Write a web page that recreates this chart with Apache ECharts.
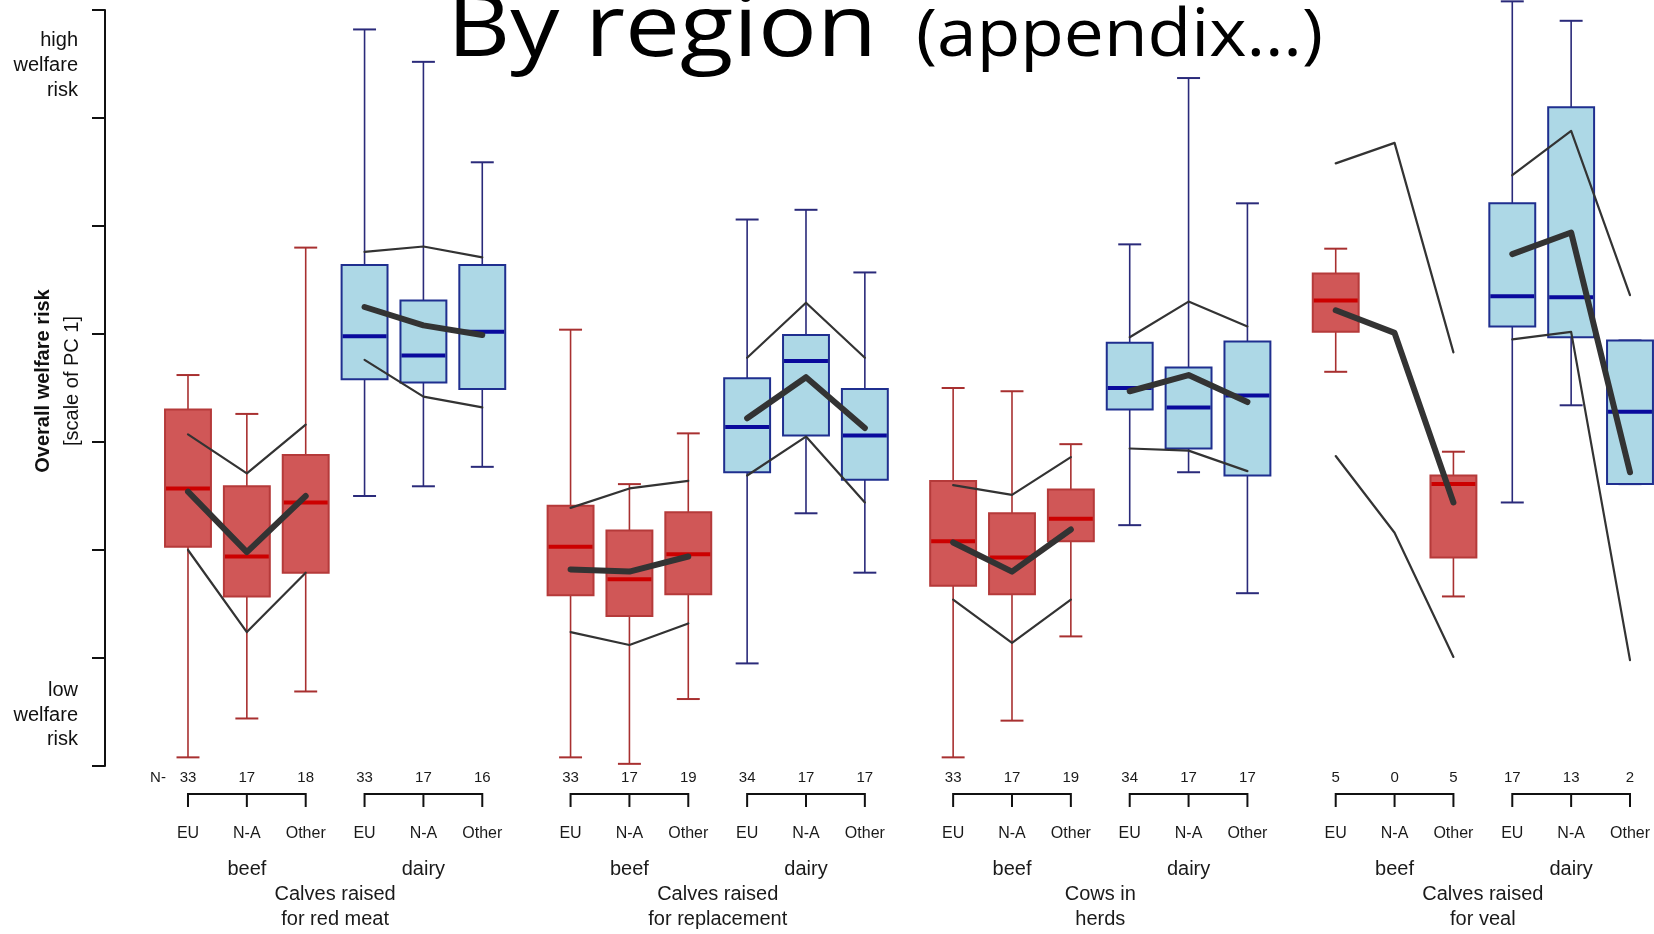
<!DOCTYPE html>
<html><head><meta charset="utf-8">
<script src="https://cdn.jsdelivr.net/npm/echarts@6/dist/echarts.min.js"></script>
<style>html,body{margin:0;padding:0;background:#fff}#c{width:1654px;height:934px}</style>
</head><body><div id="c"></div>
<script>
// ---------- data ----------
const productions = ['Calves raised\nfor red meat', 'Calves raised\nfor replacement', 'Cows in\nherds', 'Calves raised\nfor veal'];
const animalTypes = ['beef', 'dairy'];
const regions = ['EU', 'N-A', 'Other'];
const nCounts = [33,17,18, 33,17,16, 33,17,19, 34,17,17, 33,17,19, 34,17,17, 5,0,5, 17,13,2];
const whiskerLow  = [0.08,0.44,0.69, 2.50,2.59,2.77, 0.08,0.02,0.62, 0.95,2.34,1.79, 0.08,0.42,1.20, 2.23,2.72,1.60, 3.65,null,1.57, 2.44,3.34,2.61];
const quart1      = [2.03,1.57,1.79, 3.58,3.55,3.49, 1.58,1.39,1.59, 2.72,3.06,2.65, 1.67,1.59,2.08, 3.30,2.94,2.69, 4.02,null,1.93, 4.07,3.97,2.61];
const medians     = [2.57,1.94,2.44, 3.98,3.80,4.02, 2.03,1.73,1.96, 3.14,3.75,3.06, 2.08,1.93,2.29, 3.50,3.32,3.43, 4.31,null,2.61, 4.35,4.34,3.28];
const quart3      = [3.30,2.59,2.88, 4.64,4.31,4.64, 2.41,2.18,2.35, 3.59,3.99,3.49, 2.64,2.34,2.56, 3.92,3.69,3.93, 4.56,null,2.69, 5.21,6.10,3.94];
const whiskerHigh = [3.62,3.26,4.80, 6.82,6.52,5.59, 4.04,2.61,3.08, 5.06,5.15,4.57, 3.50,3.47,2.98, 4.83,6.37,5.21, 4.79,null,2.91, 7.08,6.90,3.94];
const meanLine    = [2.54,1.98,2.50, 4.25,4.08,3.99, 1.82,1.80,1.94, 3.22,3.60,3.13, 2.07,1.80,2.19, 3.47,3.62,3.37, 4.22,4.01,2.44, 4.74,4.94,2.72];
const upperLine   = [3.07,2.71,3.16, 4.76,4.81,4.71, 2.39,2.57,2.64, 3.78,4.29,3.78, 2.60,2.51,2.86, 3.97,4.30,4.07, 5.58,5.77,3.83, 5.47,5.88,4.36];
const lowerLine   = [2.00,1.24,1.79, 3.76,3.42,3.32, 1.24,1.12,1.32, 2.69,3.05,2.44, 1.54,1.14,1.54, 2.94,2.92,2.73, 2.87,2.16,1.01, 3.95,4.02,0.98];
const yTicks = [0,1,2,3,4,5,6,7];

// ---------- layout helpers ----------
function pos(i){ return i + 0.5*Math.floor(i/6); }
const FONT = '"Liberation Sans", Arial, sans-serif';
const pal = [
  {fill:'#d05757', border:'#b53a3a', median:'#cc0000', whisker:'#a83030'},
  {fill:'#add8e6', border:'#1f2f8f', median:'#0a0a9c', whisker:'#2a2a7a'}
];

const boxData = [];
for (let i=0;i<24;i++){
  if (medians[i] == null) continue;
  boxData.push([pos(i), whiskerLow[i], quart1[i], medians[i], quart3[i], whiskerHigh[i], Math.floor(i/3)%2]);
}
const annData = [];
for (let i=0;i<24;i++) annData.push([pos(i), i]);

const series = [];
series.push({
  type:'custom', z:2, clip:false, data: boxData,
  renderItem(params, api){
    const x = api.value(0);
    const lo = api.coord([x, api.value(1)]), q1 = api.coord([x, api.value(2)]),
          md = api.coord([x, api.value(3)]), q3 = api.coord([x, api.value(4)]),
          hi = api.coord([x, api.value(5)]);
    const bw = api.size([0.78,0])[0], cw = api.size([0.39,0])[0];
    const p = pal[api.value(6)];
    const cx = lo[0];
    const ln = (x1,y1,x2,y2,c,w)=>({type:'line', shape:{x1,y1,x2,y2}, style:{stroke:c, lineWidth:w}});
    return {type:'group', children:[
      ln(cx,q3[1],cx,hi[1],p.whisker,1.6),
      ln(cx,q1[1],cx,lo[1],p.whisker,1.6),
      ln(cx-cw/2,hi[1],cx+cw/2,hi[1],p.whisker,2),
      ln(cx-cw/2,lo[1],cx+cw/2,lo[1],p.whisker,2),
      {type:'rect', shape:{x:cx-bw/2, y:q3[1], width:bw, height:q1[1]-q3[1]}, style:{fill:p.fill, stroke:p.border, lineWidth:2}},
      ln(cx-bw/2+1,md[1],cx+bw/2-1,md[1],p.median,4)
    ]};
  }
});

const lineKinds = [[meanLine,6],[upperLine,2.2],[lowerLine,2.2]];
for (let g=0; g<8; g++){
  for (const [arr,w] of lineKinds){
    const d = [];
    for (let k=0;k<3;k++){ const i=3*g+k; d.push([pos(i), arr[i]]); }
    series.push({type:'line', z:4, data:d, symbol:'none', silent:true, clip:false,
      lineStyle:{color:'#333', width:w, cap:'round', join:'round'}});
  }
}

series.push({
  type:'custom', z:5, clip:false, data: annData, silent:true,
  renderItem(params, api){
    const x = api.value(0), i = api.value(1);
    const base = api.coord([x, yTicks[0]]);
    const cx = base[0], by = base[1];
    const txt = (t,xx,yy,size,extra)=>({type:'text', style:Object.assign({text:t, x:xx, y:yy, align:'center', verticalAlign:'middle', font:size+'px '+FONT, fill:'#1a1a1a'}, extra||{})});
    const ch = [];
    ch.push(txt(String(nCounts[i]), cx, by+12, 15));
    ch.push(txt(regions[i%3], cx, by+68, 16));
    if (i===0) ch.push(txt('N-', cx-30, by+12, 15));
    if (i%3===1){
      const l = api.coord([pos(i-1), yTicks[0]])[0], r = api.coord([pos(i+1), yTicks[0]])[0];
      ch.push({type:'polyline', shape:{points:[[l,by+41],[l,by+28],[r,by+28],[r,by+41]]}, style:{stroke:'#111', lineWidth:2, fill:null}});
      ch.push({type:'line', shape:{x1:cx,y1:by+28,x2:cx,y2:by+41}, style:{stroke:'#111', lineWidth:2}});
      ch.push(txt(animalTypes[Math.floor(i/3)%2], cx, by+103, 20));
    }
    if (i%6===1){
      const mx = api.coord([pos(i)+1.5, yTicks[0]])[0];
      ch.push(txt(productions[Math.floor(i/6)], mx, by+141, 20, {lineHeight:25}));
    }
    return {type:'group', children:ch};
  }
});

const chart = echarts.init(document.getElementById('c'));
chart.setOption({
  animation:false,
  backgroundColor:'#fff',
  grid:{left:105, right:24, top:10, bottom:168},
  xAxis:{type:'value', min:-1.41, max:24.5, show:false},
  yAxis:{type:'value', min:yTicks[0], max:yTicks[yTicks.length-1], interval:1,
    axisLine:{show:true, onZero:false, lineStyle:{color:'#111', width:2}},
    axisTick:{show:true, inside:false, length:13, lineStyle:{color:'#111', width:2}},
    axisLabel:{show:false}, splitLine:{show:false}},
  graphic:[
    {type:'text', x:447, y:31, scaleX:1.14, style:{text:'By region', x:0, y:0, align:'left', verticalAlign:'middle', font:'86px "Open Sans", sans-serif', fill:'#000'}},
    {type:'text', x:916, y:37, scaleX:1.08, style:{text:'(appendix…)', x:0, y:0, align:'left', verticalAlign:'middle', font:'66px "Open Sans", sans-serif', fill:'#000'}},
    {type:'text', x:43, y:381, rotation:Math.PI/2, style:{text:'Overall welfare risk', x:0, y:0, align:'center', verticalAlign:'middle', font:'bold 20px '+FONT, fill:'#111'}},
    {type:'text', x:72, y:381, rotation:Math.PI/2, style:{text:'[scale of PC 1]', x:0, y:0, align:'center', verticalAlign:'middle', font:'20px '+FONT, fill:'#111'}},
    {type:'text', x:78, y:40, style:{text:'high', align:'right', verticalAlign:'middle', font:'20px '+FONT, fill:'#111'}},
    {type:'text', x:78, y:65, style:{text:'welfare', align:'right', verticalAlign:'middle', font:'20px '+FONT, fill:'#111'}},
    {type:'text', x:78, y:90, style:{text:'risk', align:'right', verticalAlign:'middle', font:'20px '+FONT, fill:'#111'}},
    {type:'text', x:78, y:690, style:{text:'low', align:'right', verticalAlign:'middle', font:'20px '+FONT, fill:'#111'}},
    {type:'text', x:78, y:715, style:{text:'welfare', align:'right', verticalAlign:'middle', font:'20px '+FONT, fill:'#111'}},
    {type:'text', x:78, y:739, style:{text:'risk', align:'right', verticalAlign:'middle', font:'20px '+FONT, fill:'#111'}}
  ],
  series
});
</script></body></html>
